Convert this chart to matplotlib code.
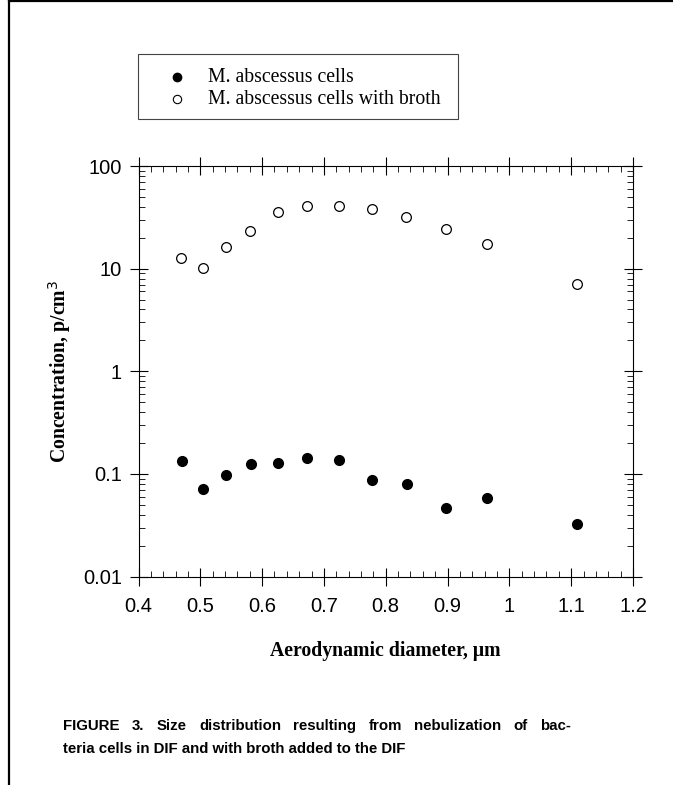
import numpy as np
import matplotlib
matplotlib.use("Agg")
from matplotlib import pyplot as plt
from matplotlib import ticker
from matplotlib.patches import Rectangle
from matplotlib.lines import Line2D

# values
diam_cells = [0.470, 0.505, 0.542, 0.582, 0.625, 0.673, 0.724, 0.778, 0.834, 0.898, 0.964, 1.110]
conc_cells = [0.134, 0.0706, 0.0966, 0.126, 0.129, 0.144, 0.137, 0.0877, 0.0796, 0.0468, 0.058, 0.0324]

diam_broth = [0.469, 0.504, 0.541, 0.581, 0.625, 0.672, 0.724, 0.777, 0.833, 0.897, 0.964, 1.109]
conc_broth = [12.6, 10.1, 16.3, 23.4, 35.6, 40.5, 41.0, 37.8, 32.1, 24.5, 17.5, 7.16]

labels = ['M. abscessus cells', 'M. abscessus cells with broth']
yticks = [0.01, 0.1, 1, 10, 100]
xticks = [0.4, 0.5, 0.6, 0.7, 0.8, 0.9, 1.0, 1.1, 1.2]
caption = ['FIGURE 3. Size distribution resulting from nebulization of bac-',
           'teria cells in DIF and with broth added to the DIF']

W, H = 673, 785
fig = plt.figure(figsize=(W / 100, H / 100), dpi=100)

def fx(px):
    return px / W

def fy(py):
    return 1 - py / H

# page frame (top and left edges)
fig.add_artist(Line2D([fx(9), fx(9)], [0, 1], color='k', lw=1.6))
fig.add_artist(Line2D([fx(9), 1], [fy(1), fy(1)], color='k', lw=1.6))

ax = fig.add_axes([fx(138.5), fy(576.5), fx(633) - fx(138.5), (576.5 - 166) / H])

ax.plot(diam_cells, conc_cells, 'o', color='k', ms=7, zorder=3)
ax.plot(diam_broth, conc_broth, 'o', mfc='white', mec='k', mew=0.9, ms=7, zorder=3)

ax.set_yscale('log')
ax.set_xlim(0.4, 1.2)
ax.set_ylim(0.01, 100)
ax.set_xticks(xticks)
ax.xaxis.set_major_formatter(ticker.FuncFormatter(lambda v, p: '%g' % v))
ax.xaxis.set_minor_locator(ticker.MultipleLocator(0.02))
ax.set_yticks(yticks)
ax.yaxis.set_major_formatter(ticker.FuncFormatter(lambda v, p: '%g' % v))
ax.yaxis.set_minor_locator(ticker.LogLocator(base=10, subs=np.arange(2, 10)))
ax.yaxis.set_minor_formatter(ticker.NullFormatter())

ax.tick_params(which='major', direction='inout', length=13, width=0.8,
               top=True, right=True, labelsize=14.5)
ax.tick_params(axis='x', which='major', pad=8)
ax.tick_params(axis='y', which='major', pad=5.5)
ax.tick_params(which='minor', direction='in', length=4, width=0.6,
               top=True, right=True)
for lab in ax.get_xticklabels() + ax.get_yticklabels():
    lab.set_family('Liberation Sans')
for s in ax.spines.values():
    s.set_linewidth(0.8)

ax.set_xlabel('Aerodynamic diameter, \u03bcm', family='Liberation Serif',
              fontweight='bold', fontsize=14.2, labelpad=18)
ax.set_ylabel('Concentration, p/cm$^{3}$', family='Liberation Serif',
              fontweight='bold', fontsize=14.2, labelpad=7)

# legend box drawn in figure coordinates
fig.add_artist(Rectangle((fx(138), fy(119)), fx(458) - fx(138), (119 - 54) / H,
                         transform=fig.transFigure, fill=False, ec='#444444', lw=0.8))
fig.add_artist(Line2D([fx(177)], [fy(77)], marker='o', color='k', ms=6, ls='none'))
fig.add_artist(Line2D([fx(177)], [fy(99)], marker='o', mfc='white', mec='k',
                      mew=0.8, ms=6, ls='none'))
fig.text(fx(208), fy(78), labels[0], family='Liberation Serif', fontsize=14.2, va='center')
fig.text(fx(208), fy(100), labels[1], family='Liberation Serif', fontsize=14.2, va='center')

# caption, first line justified between x=63 and x=571
cap_font = dict(family='Liberation Sans', fontweight='bold', fontsize=10.8, va='center')
renderer = fig.canvas.get_renderer()
words = caption[0].split(' ')
arts = [fig.text(0, fy(726), w, **cap_font) for w in words]
widths = [a.get_window_extent(renderer).width for a in arts]
gap = max((571 - 63 - sum(widths)) / (len(words) - 1), 3)
xpos = 63
for a, w in zip(arts, widths):
    a.set_x(fx(xpos))
    xpos += w + gap
fig.text(fx(63), fy(749), caption[1], **cap_font)

fig.savefig('out.png', dpi=100)
